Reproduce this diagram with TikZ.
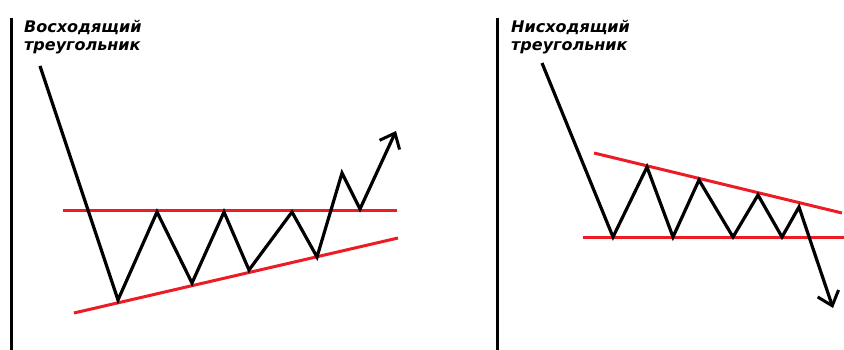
\documentclass[tikz,border=0pt]{standalone}
\usepackage{fontspec}
\setmainfont{Liberation Sans}
\newfontfamily\titlefont{DejaVu Sans}
\usetikzlibrary{arrows.meta}
\definecolor{ink}{HTML}{000000}
\definecolor{trend}{HTML}{ED1C24}
\tikzset{
  every node/.style={text=ink},
  axis/.style={draw=ink, line width=3pt},
  price/.style={draw=ink, line width=3.2pt, line join=miter},
  trendline/.style={draw=trend, line width=3pt},
  breakout/.style={price, -{Straight Barb[length=13pt, width=22pt, line width=3pt]}},
  title/.style={font=\titlefont\fontsize{16}{18}\selectfont\bfseries\itshape, align=left, anchor=north west, inner sep=0pt},
}

\begin{document}
\begin{tikzpicture}[x=1pt, y=-1pt]
  \useasboundingbox (0,0) rectangle (844,350);

  % ascending triangle
  \draw[axis] (11,18) -- (11,350);
  \node[title] (ascTitle) at (24,20) {Восходящий\\треугольник};
  \draw[trendline] (63,211) -- (397,211);
  \draw[trendline] (74,313) -- (398,238);
  \draw[breakout] (40,66) -- (118,300) -- (157,212) -- (192,283) -- (224,212)
    -- (249,270) -- (292,212) -- (317,257) -- (342,173) -- (360,209) -- (396,131);

  % descending triangle
  \draw[axis] (497,18) -- (497,350);
  \node[title] (descTitle) at (511,20) {Нисходящий\\треугольник};
  \draw[trendline] (594,153) -- (842,213);
  \draw[trendline] (583,237) -- (844,237);
  \draw[breakout] (542,63) -- (613,237) -- (647,167) -- (673,237) -- (699,180)
    -- (733,237) -- (758,195) -- (782,237) -- (799,207) -- (833,308);
\end{tikzpicture}
\end{document}
